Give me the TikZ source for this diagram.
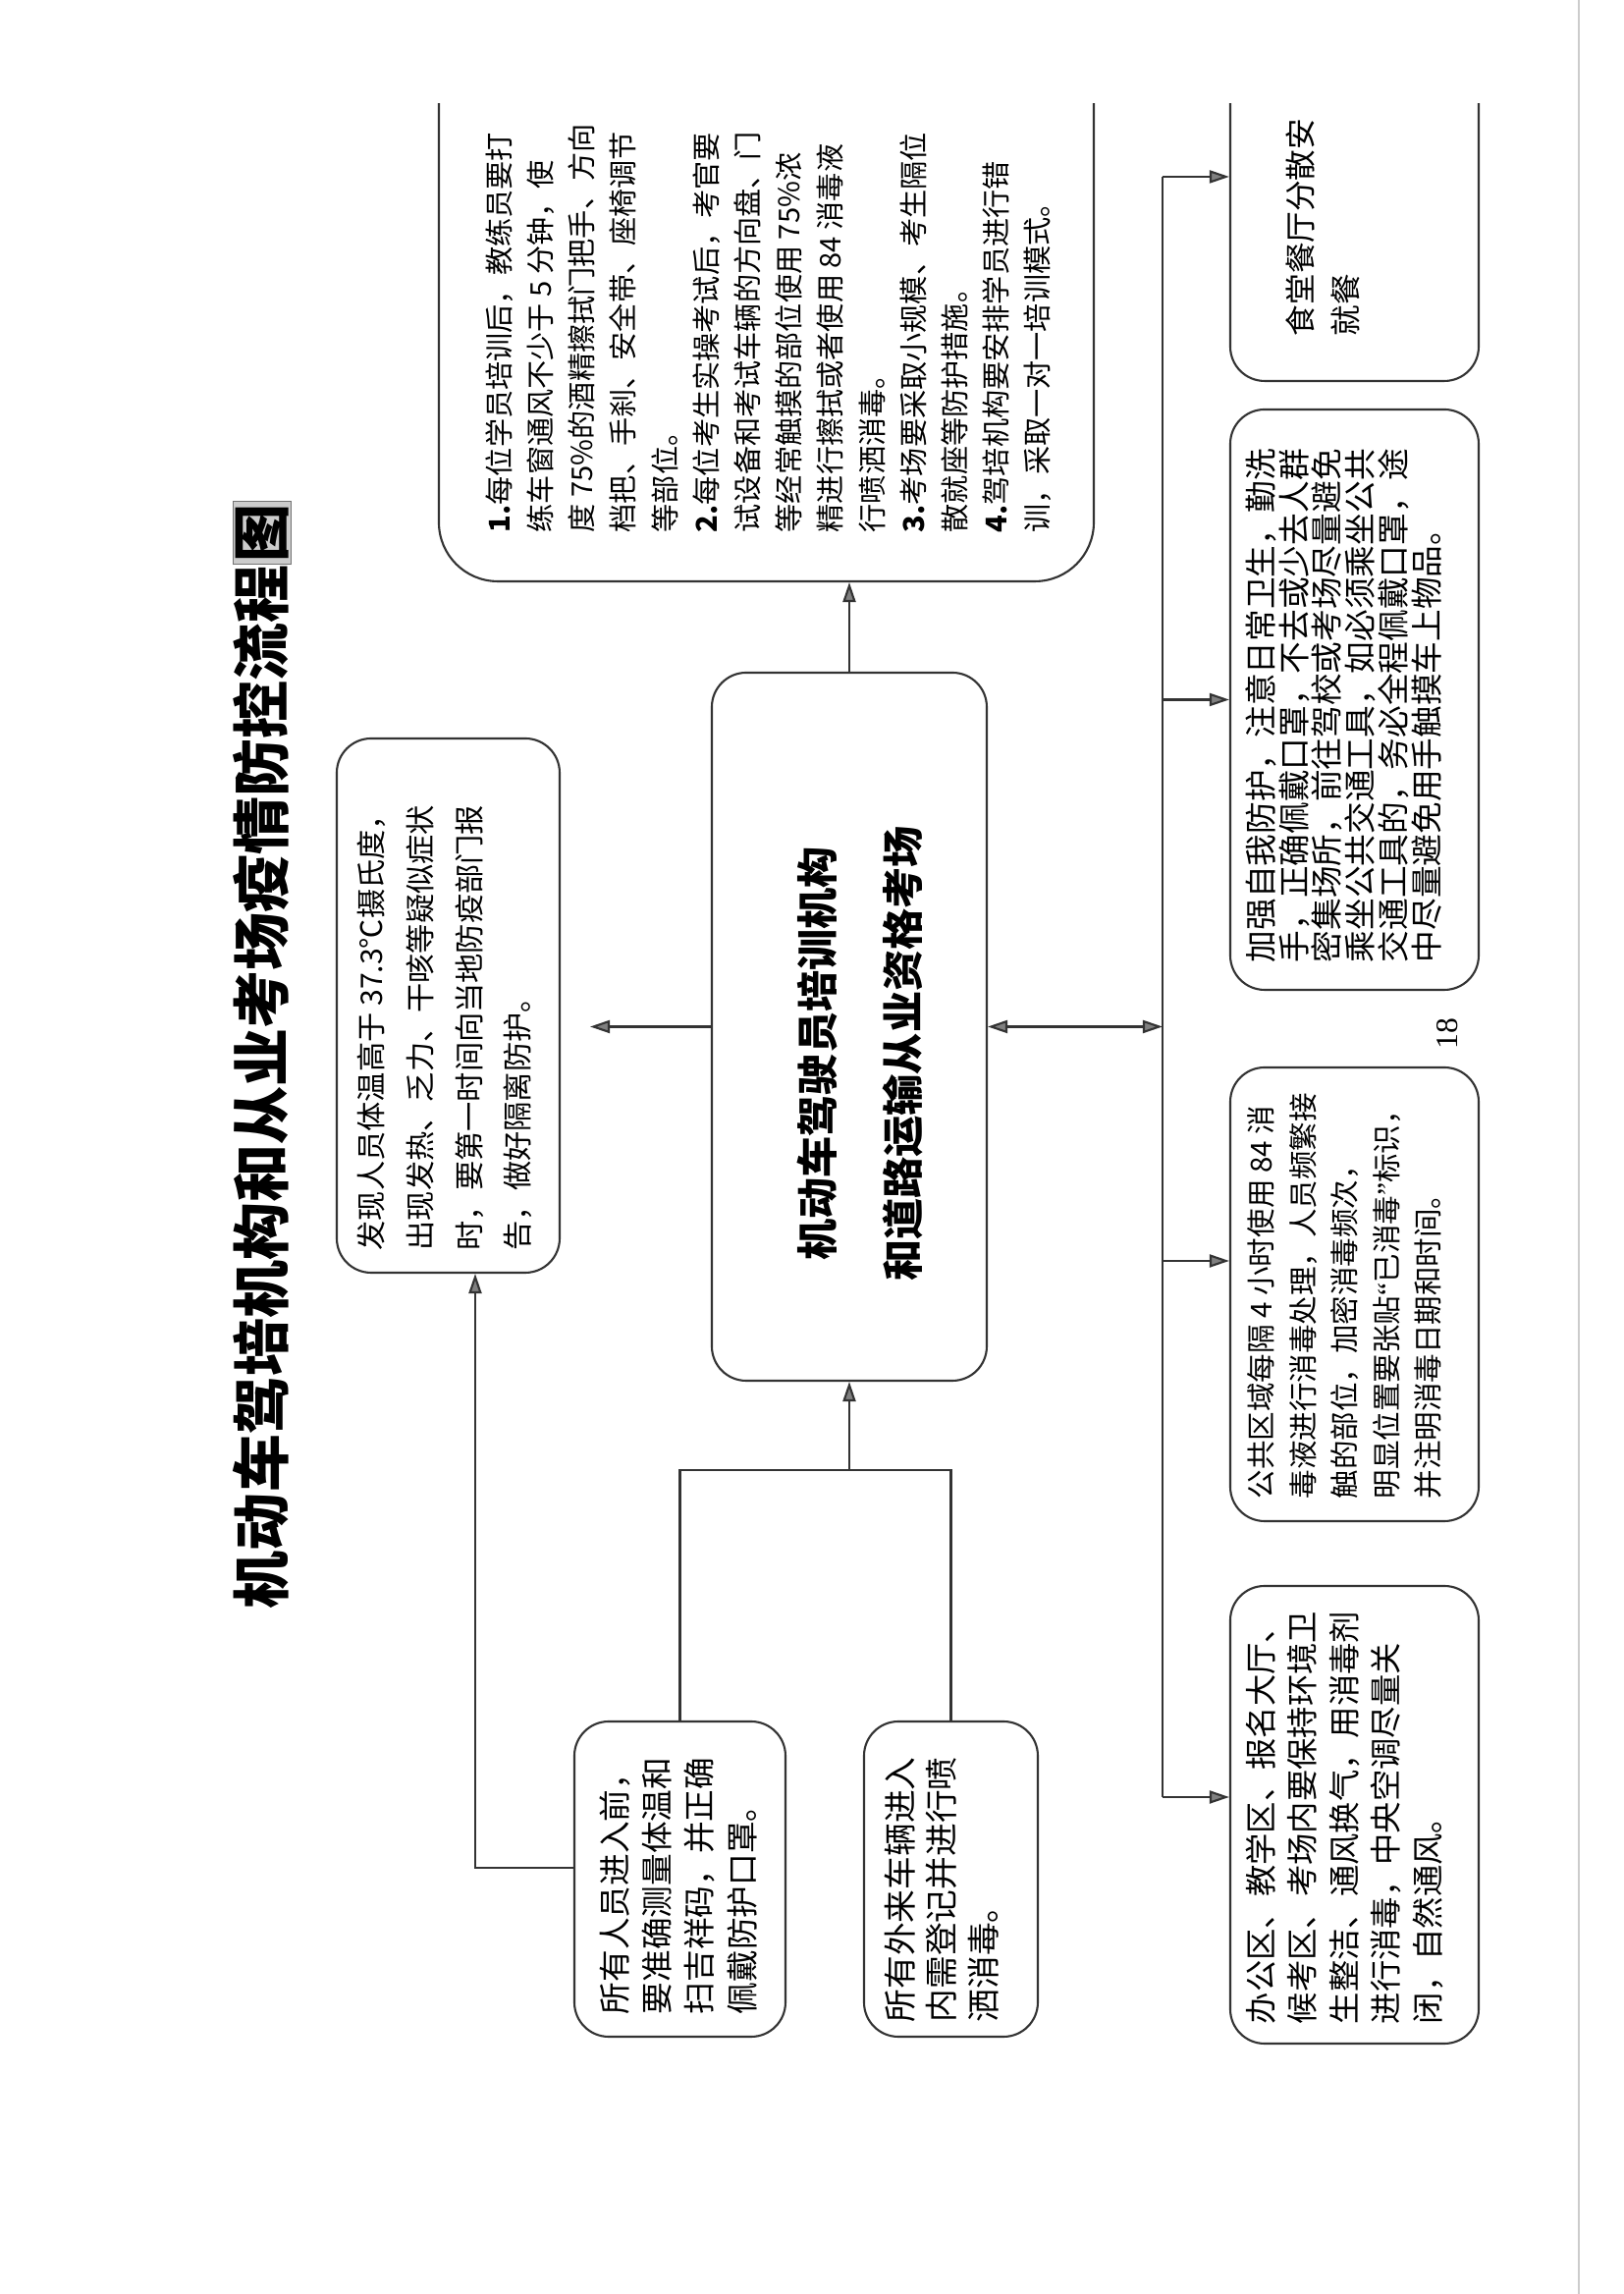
\documentclass[tikz,border=0pt]{standalone}
\usepackage{fontspec}
\setmainfont{Noto Sans CJK SC}
\newfontfamily\yema{Liberation Serif}
\usetikzlibrary{arrows.meta,calc}

\newcommand{\ziti}[2]{\fontsize{#1}{#2}\selectfont}

\tikzset{
  kuang/.style = {draw = black!80, line width = 0.6pt, rounded corners = 0.35cm, inner sep = 0pt},
  wenzi/.style = {inner sep = 0pt, align = left, anchor = north west},
  xian/.style = {draw = black!80, line width = 0.6pt},
  jiantou/.style = {xian, -{Triangle[length = 0.2cm, width = 0.13cm, fill = black!50]}},
}

\begin{document}
\begin{tikzpicture}
  \begin{scope}[rotate = 90, transform shape]
    % 页面（横排后整体转 90 度）
    \path[fill = white, use as bounding box] (0,0) rectangle (23.36,16.53);
    % 扫描边线
    \path[draw = black!20, line width = 0.8pt](0,0.45)to(23.36,0.45);

    % 标题
    \node[inner sep = 0pt, font = \bfseries\ziti{16.8pt}{19pt}] (title) at (12.62,13.86)
      {机动车驾培机构和从业考场疫情防控流程{\setlength{\fboxsep}{0.5pt}\fcolorbox{black!55}{black!20}{图}}};

    % 右侧被页边截断的两个框
    \begin{scope}
      \clip (0,0) rectangle (22.30,16.53);
      \node[kuang, rounded corners = 0.6cm, minimum width = 5.56cm, minimum height = 6.67cm] (topbox) at (20.22,8.725) {};
      \node[wenzi, font = \ziti{8.3pt}{12pt}] (topbox-t) at (17.93,11.59)
        {\textbf{1.}每位学员培训后，教练员要打\\
         练车窗通风不少于 5 分钟，使\\
         度 75\%的酒精擦拭门把手、方向\\
         档把、手刹、安全带、座椅调节\\
         等部位。\\
         \textbf{2.}每位考生实操考试后，考官要\\
         试设备和考试车辆的方向盘、门\\
         等经常触摸的部位使用 75\%浓\\
         精进行擦拭或者使用 84 消毒液\\
         行喷洒消毒。\\
         \textbf{3.}考场要采取小规模、考生隔位\\
         散就座等防护措施。\\
         \textbf{4.}驾培机构要安排学员进行错\\
         训，采取一对一培训模式。};
      \node[kuang, minimum width = 3.52cm, minimum height = 2.53cm] (shitang) at (21.24,2.735) {};
      \node[wenzi, font = \ziti{9pt}{13.1pt}] (shitang-t) at (19.93,3.44) {食堂餐厅分散安\\就餐};
    \end{scope}

    % 中心
    \node[kuang, minimum width = 7.21cm, minimum height = 2.80cm] (ctrbox) at (12.905,7.88) {};
    \node[inner sep = 0pt, align = center, font = \bfseries\ziti{12pt}{24.7pt}] (ctrbox-t) at (12.63,7.77)
      {机动车驾驶员培训机构\\和道路运输从业资格考场};

    % 发现异常
    \node[kuang, minimum width = 5.44cm, minimum height = 2.27cm] (faxian) at (13.12,11.965) {};
    \node[wenzi, font = \ziti{8.6pt}{14.2pt}] (faxian-t) at (10.62,12.90)
      {发现人员体温高于 37.3℃摄氏度，\\
       出现发热、乏力、干咳等疑似症状\\
       时，要第一时间向当地防疫部门报\\
       告，做好隔离防护。};

    % 入口
    \node[kuang, minimum width = 3.21cm, minimum height = 2.15cm] (renyuan) at (4.225,9.605) {};
    \node[wenzi, font = \ziti{9.3pt}{12.3pt}] (renyuan-t) at (2.84,10.43)
      {所有人员进入前，\\要准确测量体温和\\扫吉祥码，并正确\\佩戴防护口罩。};
    \node[kuang, minimum width = 3.21cm, minimum height = 1.77cm] (cheliang) at (4.225,6.845) {};
    \node[wenzi, font = \ziti{9.6pt}{12.1pt}] (cheliang-t) at (2.76,7.53)
      {所有外来车辆进入\\内需登记并进行喷\\洒消毒。};

    % 下排
    \node[kuang, minimum width = 5.91cm, minimum height = 2.53cm] (jiaqiang) at (16.235,2.735) {};
    \node[wenzi, font = \ziti{9.3pt}{9.6pt}] (jiaqiang-t) at (13.55,3.85)
      {加强自我防护，注意日常卫生，勤洗\\
       手，正确佩戴口罩，不去或少去人群\\
       密集场所，前往驾校或考场尽量避免\\
       乘坐公共交通工具，如必须乘坐公共\\
       交通工具的，务必全程佩戴口罩，途\\
       中尽量避免用手触摸车上物品。};
    \node[kuang, minimum width = 4.62cm, minimum height = 2.53cm] (gonggong) at (10.18,2.735) {};
    \node[wenzi, font = \ziti{8.4pt}{12.1pt}] (gonggong-t) at (8.09,3.83)
      {公共区域每隔 4 小时使用 84 消\\
       毒液进行消毒处理，人员频繁接\\
       触的部位，加密消毒频次，\\
       明显位置要张贴{\yema “}已消毒{\yema ”}标识，\\
       并注明消毒日期和时间。};
    \node[kuang, minimum width = 4.66cm, minimum height = 2.53cm] (bangong) at (4.88,2.735) {};
    \node[wenzi, font = \ziti{9.2pt}{12.1pt}] (bangong-t) at (2.74,3.85)
      {办公区、教学区、报名大厅、\\
       候考区、考场内要保持环境卫\\
       生整洁、通风换气，用消毒剂\\
       进行消毒，中央空调尽量关\\
       闭，自然通风。};

    % 页码
    \node[inner sep = 0pt, font = \yema\ziti{9pt}{10pt}] (yema) at (12.83,1.79) {18};

    % 连线
    \draw[jiantou] (ctrbox.east) -- (ctrbox.east -| topbox.west);
    \coordinate (hub) at (8.39,7.88);
    \draw[xian] (renyuan.east) -- (renyuan.east -| hub) -- (cheliang.east -| hub) -- (cheliang.east);
    \draw[jiantou] (hub) -- (ctrbox.west);
    \draw[jiantou, shorten > = 0.3cm] (ctrbox.north) -- (ctrbox.north |- faxian.south);
    \coordinate (zhuan) at (4.34,11.69);
    \draw[jiantou] (zhuan |- renyuan.north) -- (zhuan) -- (zhuan -| faxian.west);
    % 总线
    \coordinate (busl) at (5.06,4.69);
    \coordinate (busr) at (21.56,4.69);
    \coordinate (busg) at (10.52,4.69);
    \draw[xian, {Triangle[length = 0.2cm, width = 0.13cm, fill = black!50]}-{Triangle[length = 0.2cm, width = 0.13cm, fill = black!50]}]
      (ctrbox.south) -- (ctrbox.south |- busl);
    \draw[xian] (busl) -- (busr);
    \draw[jiantou] (busr) -- (busr |- shitang.north);
    \draw[jiantou] (jiaqiang.north |- busl) -- (jiaqiang.north);
    \draw[jiantou] (busg) -- (busg |- gonggong.north);
    \draw[jiantou] (busl) -- (busl |- bangong.north);
  \end{scope}
\end{tikzpicture}
\end{document}
